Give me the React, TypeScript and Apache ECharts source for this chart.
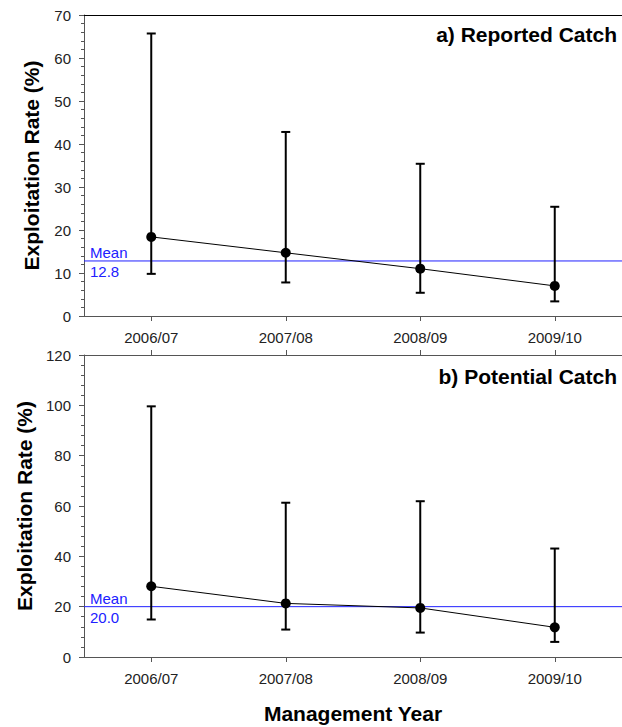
import React, { useEffect, useRef } from "react";
import * as echarts from "echarts";

const categories = ["2006/07", "2007/08", "2008/09", "2009/10"];

const reportedRate = [18.4, 14.7, 11.0, 7.0];
const reportedLow = [9.8, 7.8, 5.4, 3.4];
const reportedHigh = [65.7, 42.8, 35.4, 25.4];
const reportedMean = 12.8;

const potentialRate = [28.1, 21.3, 19.5, 11.8];
const potentialLow = [14.9, 10.9, 9.7, 6.0];
const potentialHigh = [99.6, 61.3, 61.9, 43.1];
const potentialMean = 20.0;

const FONT = "Liberation Sans, Arial, Helvetica, sans-serif";
const AXIS_COLOR = "#555";
const LABEL_COLOR = "#222";
const MEAN_COLOR = "#2020ff";

function errorRender(params: any, api: any) {
  const x = api.value(0);
  const lo = api.coord([x, api.value(1)]);
  const hi = api.coord([x, api.value(2)]);
  const half = 4.5;
  const style = { stroke: "#000", lineWidth: 2 };
  return {
    type: "group",
    children: [
      { type: "line", shape: { x1: lo[0], y1: lo[1], x2: hi[0], y2: hi[1] }, style },
      { type: "line", shape: { x1: hi[0] - half, y1: hi[1], x2: hi[0] + half, y2: hi[1] }, style },
      { type: "line", shape: { x1: lo[0] - half, y1: lo[1], x2: lo[0] + half, y2: lo[1] }, style },
    ],
  };
}

function meanRender(params: any, api: any) {
  const cs = params.coordSys;
  const v = api.value(1);
  const y = api.coord([0, v])[1];
  const textStyle = { fill: MEAN_COLOR, fontSize: 15, fontFamily: FONT };
  return {
    type: "group",
    children: [
      {
        type: "line",
        shape: { x1: cs.x, y1: y, x2: cs.x + cs.width, y2: y },
        style: { stroke: MEAN_COLOR, lineWidth: 1 },
      },
      {
        type: "text",
        x: cs.x + 6,
        y: y - 1,
        style: { ...textStyle, text: "Mean", verticalAlign: "bottom", align: "left" },
      },
      {
        type: "text",
        x: cs.x + 6,
        y: y + 3,
        style: { ...textStyle, text: Number(v).toFixed(1), verticalAlign: "top", align: "left" },
      },
    ],
  };
}

function yAxisDef(gridIndex: number, max: number, interval: number) {
  return {
    type: "value",
    gridIndex,
    min: 0,
    max,
    interval,
    name: "Exploitation Rate (%)",
    nameLocation: "middle",
    nameGap: 42,
    nameTextStyle: { fontSize: 21, fontWeight: "bold", color: "#000", fontFamily: FONT },
    axisLine: { show: true, onZero: false, lineStyle: { color: AXIS_COLOR, width: 1 } },
    axisTick: { show: true, length: 5, lineStyle: { color: AXIS_COLOR } },
    minorTick: { show: true, splitNumber: 5, length: 3, lineStyle: { color: AXIS_COLOR } },
    splitLine: { show: false },
    axisLabel: { fontSize: 15, color: LABEL_COLOR, fontFamily: FONT, margin: 13 },
  };
}

function xBottom(gridIndex: number, extra: any = {}) {
  return {
    type: "category",
    gridIndex,
    data: categories,
    position: "bottom",
    axisLine: { onZero: false, lineStyle: { color: AXIS_COLOR } },
    axisTick: { show: true, alignWithLabel: true, length: 5, lineStyle: { color: AXIS_COLOR } },
    axisLabel: { fontSize: 15, color: LABEL_COLOR, fontFamily: FONT, margin: 14 },
    ...extra,
  };
}

export default function App() {
  const ref = useRef<HTMLDivElement>(null);
  useEffect(() => {
    if (!ref.current) return;
    const chart = echarts.init(ref.current, undefined, { renderer: "svg" });
    const titleStyle = { fontSize: 21, fontWeight: "bold", color: "#000", fontFamily: FONT };
    const option: any = {
      animation: false,
      backgroundColor: "#fff",
      title: [
        { text: "a) Reported Catch", right: 5, top: 24, padding: 0, textStyle: titleStyle },
        { text: "b) Potential Catch", right: 5, top: 366, padding: 0, textStyle: titleStyle },
      ],
      grid: [
        { left: 84, top: 15, width: 542, height: 301, containLabel: false },
        { left: 84, top: 355, width: 542, height: 302, containLabel: false },
      ],
      xAxis: [
        xBottom(0),
        {
          type: "category",
          gridIndex: 0,
          data: categories,
          position: "top",
          axisLine: { onZero: false, lineStyle: { color: "#000" } },
          axisTick: { show: false },
          axisLabel: { show: false },
        },
        xBottom(1, {
          name: "Management Year",
          nameLocation: "middle",
          nameGap: 46,
          nameTextStyle: { fontSize: 21, fontWeight: "bold", color: "#000", fontFamily: FONT },
        }),
        {
          type: "category",
          gridIndex: 1,
          data: categories,
          position: "top",
          axisLine: { onZero: false, lineStyle: { color: AXIS_COLOR } },
          axisTick: { show: true, alignWithLabel: true, length: 5, lineStyle: { color: AXIS_COLOR } },
          axisLabel: { show: false },
        },
      ],
      yAxis: [yAxisDef(0, 70, 10), yAxisDef(1, 120, 20)],
      series: [
        {
          type: "custom",
          name: "meanA",
          xAxisIndex: 0,
          yAxisIndex: 0,
          renderItem: meanRender,
          data: [[0, reportedMean]],
          silent: true,
          z: 1,
        },
        {
          type: "custom",
          name: "errA",
          xAxisIndex: 0,
          yAxisIndex: 0,
          renderItem: errorRender,
          data: categories.map((_, i) => [i, reportedLow[i], reportedHigh[i]]),
          z: 3,
        },
        {
          type: "line",
          name: "rateA",
          xAxisIndex: 0,
          yAxisIndex: 0,
          data: reportedRate,
          symbol: "circle",
          symbolSize: 10,
          itemStyle: { color: "#000" },
          lineStyle: { color: "#000", width: 1 },
          z: 4,
        },
        {
          type: "custom",
          name: "meanB",
          xAxisIndex: 2,
          yAxisIndex: 1,
          renderItem: meanRender,
          data: [[0, potentialMean]],
          silent: true,
          z: 1,
        },
        {
          type: "custom",
          name: "errB",
          xAxisIndex: 2,
          yAxisIndex: 1,
          renderItem: errorRender,
          data: categories.map((_, i) => [i, potentialLow[i], potentialHigh[i]]),
          z: 3,
        },
        {
          type: "line",
          name: "rateB",
          xAxisIndex: 2,
          yAxisIndex: 1,
          data: potentialRate,
          symbol: "circle",
          symbolSize: 10,
          itemStyle: { color: "#000" },
          lineStyle: { color: "#000", width: 1 },
          z: 4,
        },
      ],
    };
    chart.setOption(option);
    return () => chart.dispose();
  }, []);
  return (
    <div
      ref={ref}
      style={{ position: "fixed", left: 0, top: 0, width: 622, height: 727, background: "#fff" }}
    />
  );
}
